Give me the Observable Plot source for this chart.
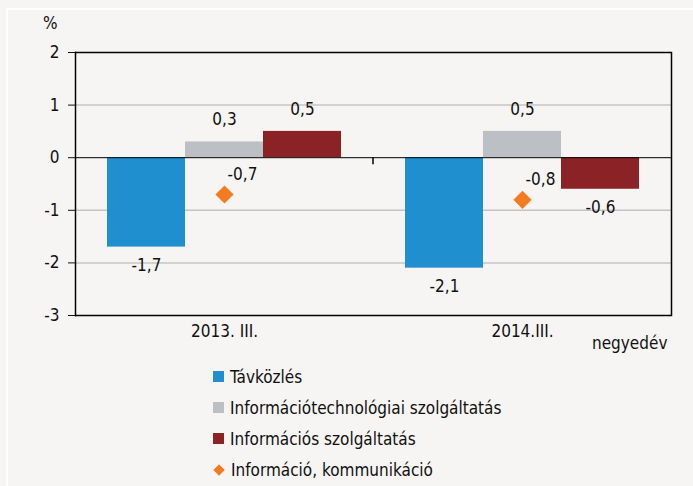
<!DOCTYPE html>
<html>
<head>
<meta charset="utf-8">
<script src="https://cdn.jsdelivr.net/npm/d3@7"></script>
<script src="https://cdn.jsdelivr.net/npm/@observablehq/plot@0.6"></script>
<style>
  html, body { margin: 0; padding: 0; }
  body { width: 693px; height: 486px; background: #f6f5f3; position: relative; overflow: hidden;
         font-family: "Liberation Sans Narrow", "Arial Narrow", "DejaVu Sans Condensed", sans-serif; color: #111; }
  .wline-top { position: absolute; left: 6px; top: 8px; right: 0; height: 2px; background: #fff; }
  .wline-left { position: absolute; left: 6px; top: 8px; bottom: 0; width: 2px; background: #fff; }
  #chart { position: absolute; left: 0; top: 0; }
  .pct { position: absolute; left: 43px; top: 13px; font-size: 17px; }
  .unit { position: absolute; left: 592px; top: 333px; font-size: 17px; }
  .legend { position: absolute; left: 213px; top: 361px; font-size: 17px; }
  .legend .item { height: 31px; display: flex; align-items: center; }
  .legend .sw { width: 11px; height: 11px; margin-right: 6px; }
  .legend .dia { width: 8px; height: 8px; margin: 0 8px 0 2px; transform: rotate(45deg); }
</style>
</head>
<body>
<div class="wline-top"></div>
<div class="wline-left"></div>
<div id="chart"></div>
<div class="pct">%</div>
<div class="unit">negyedév</div>
<div class="legend" id="legend"></div>
<script>
const quarters = ["2013. III.", "2014.III."];
const series = ["Távközlés", "Információtechnológiai szolgáltatás", "Információs szolgáltatás"];
const tavkozles = [-1.7, -2.1];
const infoTech = [0.3, 0.5];
const infoSzolg = [0.5, -0.6];
const lineName = "Információ, kommunikáció";
const infoKomm = [-0.7, -0.8];
const yTicks = [-3, -2, -1, 0, 1, 2];
const colors = ["#1f8fcf", "#bcc0c4", "#8b2226"];
const dotColor = "#f47b20";

const seriesValues = [tavkozles, infoTech, infoSzolg];
const bars = [];
quarters.forEach((q, i) => series.forEach((s, j) => bars.push({q, s, v: seriesValues[j][i]})));
const dots = quarters.map((q, i) => ({q, s: series[1], v: infoKomm[i]}));
const fmt = v => v.toFixed(1).replace(".", ",");
const font = `"Liberation Sans Narrow", "Arial Narrow", "DejaVu Sans Condensed", sans-serif`;

const chart = Plot.plot({
  width: 693,
  height: 360,
  marginLeft: 74,
  marginRight: 22,
  marginTop: 52,
  marginBottom: 45,
  style: {background: "transparent", fontFamily: font, fontSize: "17px", color: "#111"},
  fx: {domain: quarters, padding: 0, label: null, tickSize: 0, tickPadding: 9},
  x: {domain: series, paddingInner: 0, paddingOuter: 0.4, axis: null},
  y: {domain: [-3, 2], ticks: yTicks, tickSize: 7, tickPadding: 9, label: null, tickFormat: d => String(d)},
  color: {domain: series, range: colors},
  marks: [
    Plot.ruleY([-2, -1, 1], {stroke: "#c4c4c4", strokeWidth: 1.5}),
    Plot.barY(bars, {fx: "q", x: "s", y: "v", fill: "s"}),
    Plot.ruleY([0], {stroke: "#000", strokeWidth: 1}),
    Plot.ruleY([-3, 2], {stroke: "#000", strokeWidth: 1.5}),
    Plot.frame({anchor: "left", facetAnchor: "left", stroke: "#000", strokeWidth: 1.5}),
    Plot.frame({anchor: "right", facetAnchor: "right", stroke: "#000", strokeWidth: 1.5}),
    Plot.dot(dots, {fx: "q", x: "s", y: "v", symbol: "diamond2", r: 8.2, fill: dotColor, stroke: null}),
    Plot.text(bars, {fx: "q", x: "s", y: "v", text: d => fmt(d.v), lineAnchor: "middle",
      fontSize: 17, fill: "#111", filter: d => d.v >= 0, dy: -22}),
    Plot.text(bars, {fx: "q", x: "s", y: "v", text: d => fmt(d.v), lineAnchor: "middle",
      fontSize: 17, fill: "#111", filter: d => d.v < 0, dy: 18}),
    Plot.text(dots, {fx: "q", x: "s", y: "v", text: d => fmt(d.v), lineAnchor: "middle",
      fontSize: 17, fill: "#111", dx: 18, dy: -20})
  ]
});
document.getElementById("chart").append(chart);

// category separator tick on the zero line, at the boundary between the quarters
const fxS = chart.scale("fx"), yS = chart.scale("y");
const xb = fxS.apply(quarters[1]);
d3.select(chart).append("line")
  .attr("x1", xb).attr("x2", xb)
  .attr("y1", yS.apply(0)).attr("y2", yS.apply(0) + 7)
  .attr("stroke", "#000").attr("stroke-width", 1.5);

// legend
const legend = d3.select("#legend");
series.forEach((s, j) => {
  const it = legend.append("div").attr("class", "item");
  it.append("div").attr("class", "sw").style("background", colors[j]);
  it.append("span").text(s);
});
const li = legend.append("div").attr("class", "item");
li.append("div").attr("class", "dia").style("background", dotColor);
li.append("span").text(lineName);
</script>
</body>
</html>
